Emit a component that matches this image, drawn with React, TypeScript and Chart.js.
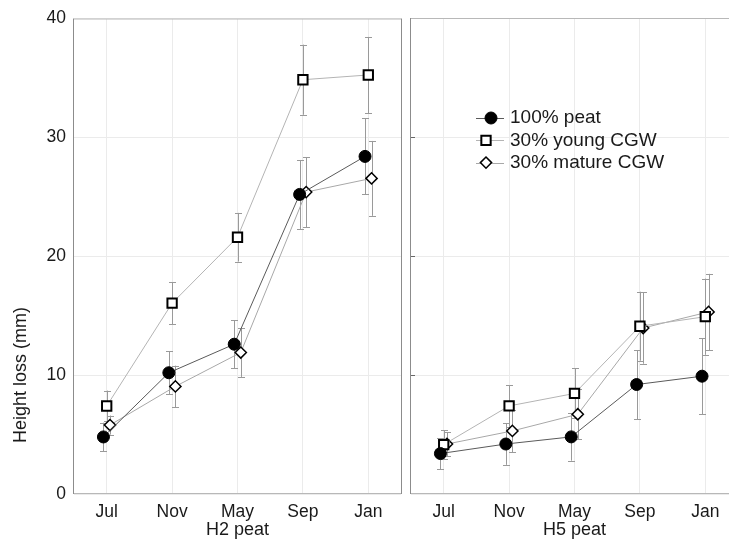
import React, { useEffect, useRef } from "react";
import { Chart, registerables } from "chart.js";
Chart.register(...registerables);

const months = ["Jul", "Nov", "May", "Sep", "Jan"];
const seriesLabels = ["100% peat", "30% young CGW", "30% mature CGW"];
const yTicks = [0, 10, 20, 30, 40];
const panelTitles = ["H2 peat", "H5 peat"];
const yTitle = "Height loss (mm)";

// H2 peat panel
const h2Peat = [4.8, 10.2, 12.6, 25.2, 28.4];
const h2PeatErr = [1.2, 1.8, 2.0, 2.9, 3.2];
const h2Young = [7.4, 16.05, 21.6, 34.85, 35.25];
const h2YoungErr = [1.3, 1.75, 2.05, 2.95, 3.2];
const h2Mature = [5.8, 9.05, 11.9, 25.4, 26.55];
const h2MatureErr = [0.8, 1.75, 2.05, 2.95, 3.15];

// H5 peat panel
const h5Peat = [3.4, 4.2, 4.8, 9.2, 9.9];
const h5PeatErr = [1.3, 1.75, 2.0, 2.9, 3.2];
const h5Young = [4.15, 7.4, 8.45, 14.1, 14.9];
const h5YoungErr = [1.2, 1.75, 2.1, 2.9, 3.2];
const h5Mature = [4.2, 5.3, 6.7, 13.95, 15.3];
const h5MatureErr = [1.0, 1.8, 2.1, 3.0, 3.2];

const FONT = "'Liberation Sans', Arial, sans-serif";
const TXT = "#1a1a1a";
const GRID = "#ebebeb";
const DODGE = [-0.05, 0, 0.05];

const styles = [
  { pointStyle: "circle", radius: 6, bg: "#000", border: "#000", pbw: 1, line: "#5a5a5a" },
  { pointStyle: "rect", radius: 6.6, bg: "#fff", border: "#000", pbw: 2, line: "#b4b4b4" },
  { pointStyle: "rectRot", radius: 5.6, bg: "#fff", border: "#000", pbw: 1.5, line: "#a8a8a8" },
];

function makeDatasets(values: number[][], errs: number[][]) {
  return values.map((vals, s) => ({
    label: seriesLabels[s],
    data: vals.map((v, i) => ({ x: i + DODGE[s], y: v })),
    errors: errs[s],
    borderColor: styles[s].line,
    borderWidth: 1,
    pointStyle: styles[s].pointStyle,
    pointRadius: styles[s].radius,
    pointBackgroundColor: styles[s].bg,
    pointBorderColor: styles[s].border,
    pointBorderWidth: styles[s].pbw,
    showLine: true,
    fill: false,
    tension: 0,
  }));
}

const errorBarPlugin = {
  id: "errorBars",
  beforeDatasetsDraw(chart: any) {
    const ctx = chart.ctx;
    const yScale = chart.scales.y;
    ctx.save();
    ctx.strokeStyle = "#9a9a9a";
    ctx.lineWidth = 1;
    chart.data.datasets.forEach((ds: any, di: number) => {
      const meta = chart.getDatasetMeta(di);
      meta.data.forEach((el: any, i: number) => {
        const v = ds.data[i].y;
        const e = ds.errors[i];
        const x = Math.round(el.x) + 0.5;
        const y1 = yScale.getPixelForValue(v + e);
        const y2 = yScale.getPixelForValue(v - e);
        ctx.beginPath();
        ctx.moveTo(x, y1);
        ctx.lineTo(x, y2);
        ctx.moveTo(x - 3.5, Math.round(y1) + 0.5);
        ctx.lineTo(x + 3.5, Math.round(y1) + 0.5);
        ctx.moveTo(x - 3.5, Math.round(y2) + 0.5);
        ctx.lineTo(x + 3.5, Math.round(y2) + 0.5);
        ctx.stroke();
      });
    });
    ctx.restore();
  },
};

const boxPlugin = {
  id: "boxFrame",
  beforeDatasetsDraw(chart: any, _args: any, opts: any) {
    const { left, right, top, bottom } = chart.chartArea;
    const ctx = chart.ctx;
    ctx.save();
    ctx.lineWidth = 1;
    ctx.strokeStyle = "#b8b8b8";
    ctx.beginPath();
    ctx.moveTo(left, top + 0.5);
    ctx.lineTo(right, top + 0.5);
    ctx.moveTo(left, bottom - 0.5);
    ctx.lineTo(right, bottom - 0.5);
    ctx.stroke();
    ctx.strokeStyle = "#8c8c8c";
    ctx.beginPath();
    ctx.moveTo(left - 0.5, top);
    ctx.lineTo(left - 0.5, bottom);
    ctx.moveTo(right + 0.5, top);
    ctx.lineTo(right + 0.5, bottom);
    ctx.stroke();
    if (opts && opts.innerTicks) {
      const y = chart.scales.y;
      ctx.strokeStyle = "#666";
      ctx.beginPath();
      yTicks.slice(1, -1).forEach((v) => {
        const py = Math.round(y.getPixelForValue(v)) + 0.5;
        ctx.moveTo(left, py);
        ctx.lineTo(left + 4, py);
      });
      ctx.stroke();
    }
    ctx.restore();
  },
};

const yTitlePlugin = {
  id: "yTitle",
  afterDraw(chart: any, _args: any, opts: any) {
    if (!opts || !opts.text) return;
    const ctx = chart.ctx;
    ctx.save();
    ctx.translate(21, chart.chartArea.bottom - 119);
    ctx.rotate(-Math.PI / 2);
    ctx.font = `18px ${FONT}`;
    ctx.fillStyle = TXT;
    ctx.textAlign = "center";
    ctx.textBaseline = "middle";
    ctx.fillText(opts.text, 0, 0);
    ctx.restore();
  },
};

function drawMarker(ctx: CanvasRenderingContext2D, style: string, r: number, x: number, y: number) {
  if (style === "circle") {
    ctx.arc(x, y, r, 0, Math.PI * 2);
  } else if (style === "rect") {
    const s = Math.SQRT1_2 * r;
    ctx.rect(x - s, y - s, 2 * s, 2 * s);
  } else {
    ctx.moveTo(x, y - r);
    ctx.lineTo(x + r, y);
    ctx.lineTo(x, y + r);
    ctx.lineTo(x - r, y);
    ctx.closePath();
  }
}

const legendPlugin = {
  id: "innerLegend",
  afterDraw(chart: any, _args: any, opts: any) {
    if (!opts || !opts.show) return;
    const ctx = chart.ctx;
    const tx = chart.chartArea.left + 99;
    const ty = chart.chartArea.top + 100;
    const rowH = 22.3;
    ctx.save();
    chart.data.datasets.forEach((ds: any, i: number) => {
      const cy = ty + i * rowH;
      ctx.strokeStyle = styles[i].line;
      ctx.lineWidth = 1;
      ctx.beginPath();
      ctx.moveTo(tx - 34, Math.round(cy) + 0.5);
      ctx.lineTo(tx - 6, Math.round(cy) + 0.5);
      ctx.stroke();
      const mx = i === 0 ? tx - 19 : tx - 24;
      ctx.fillStyle = styles[i].bg;
      ctx.strokeStyle = styles[i].border;
      ctx.lineWidth = styles[i].pbw;
      ctx.beginPath();
      drawMarker(ctx, styles[i].pointStyle, styles[i].radius, mx, cy);
      ctx.fill();
      ctx.stroke();
      ctx.font = `19px ${FONT}`;
      ctx.fillStyle = TXT;
      ctx.textAlign = "left";
      ctx.textBaseline = "middle";
      ctx.fillText(ds.label, tx, cy);
    });
    ctx.restore();
  },
};

function makeConfig(panel: number): any {
  const values = panel === 0 ? [h2Peat, h2Young, h2Mature] : [h5Peat, h5Young, h5Mature];
  const errs = panel === 0 ? [h2PeatErr, h2YoungErr, h2MatureErr] : [h5PeatErr, h5YoungErr, h5MatureErr];
  return {
    type: "line",
    data: { datasets: makeDatasets(values, errs) },
    options: {
      animation: false,
      responsive: false,
      maintainAspectRatio: false,
      devicePixelRatio: 1,
      layout: {
        autoPadding: false,
        padding: panel === 0 ? { top: 18, right: 2, bottom: 0, left: 0 } : { top: 18, right: 7, bottom: 0, left: 8 },
      },
      plugins: {
        legend: { display: false },
        tooltip: { enabled: false },
        boxFrame: { innerTicks: panel === 1 },
        yTitle: { text: panel === 0 ? yTitle : "" },
        innerLegend: { show: panel === 1 },
      },
      scales: {
        x: {
          type: "linear",
          min: -0.5,
          max: 4.5,
          afterBuildTicks: (s: any) => {
            s.ticks = months.map((_, i) => ({ value: i }));
          },
          afterFit: (s: any) => {
            s.height = 56;
          },
          ticks: {
            callback: (v: any) => months[v] ?? "",
            font: { family: FONT, size: 17.5 },
            color: TXT,
            padding: 8,
            autoSkip: false,
            maxRotation: 0,
          },
          grid: { color: GRID, drawTicks: false },
          border: { display: false },
          title: {
            display: true,
            text: panelTitles[panel],
            font: { family: FONT, size: 18 },
            color: TXT,
            padding: { top: 0, bottom: 9 },
          },
        },
        y: {
          min: 0,
          max: 40,
          afterBuildTicks: (s: any) => {
            s.ticks = yTicks.map((v) => ({ value: v }));
          },
          afterFit: (s: any) => {
            s.width = panel === 0 ? 74 : 0;
          },
          ticks: {
            display: panel === 0,
            font: { family: FONT, size: 17.5 },
            color: TXT,
            padding: 8,
          },
          grid: { color: GRID, drawTicks: false },
          border: { display: false },
        },
      },
    },
    plugins: [boxPlugin, errorBarPlugin, yTitlePlugin, legendPlugin],
  };
}

export default function App() {
  const leftRef = useRef<HTMLCanvasElement>(null);
  const rightRef = useRef<HTMLCanvasElement>(null);

  useEffect(() => {
    const c1 = new Chart(leftRef.current as HTMLCanvasElement, makeConfig(0));
    const c2 = new Chart(rightRef.current as HTMLCanvasElement, makeConfig(1));
    return () => {
      c1.destroy();
      c2.destroy();
    };
  }, []);

  return (
    <div
      style={{
        position: "fixed",
        left: 0,
        top: 0,
        width: 729,
        height: 550,
        overflow: "hidden",
        background: "#fff",
      }}
    >
      <div style={{ position: "absolute", left: 0, top: 0, width: 403, height: 550 }}>
        <canvas ref={leftRef} width={403} height={550} style={{ width: 403, height: 550, display: "block" }} />
      </div>
      <div style={{ position: "absolute", left: 403, top: 0, width: 342, height: 550 }}>
        <canvas ref={rightRef} width={342} height={550} style={{ width: 342, height: 550, display: "block" }} />
      </div>
    </div>
  );
}
